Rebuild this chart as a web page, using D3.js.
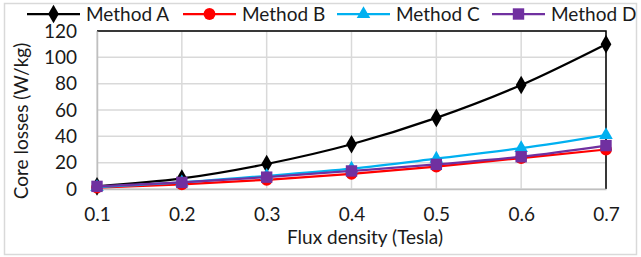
<!DOCTYPE html>
<html>
<head>
<meta charset="utf-8">
<script src="https://cdn.jsdelivr.net/npm/d3@7"></script>
<style>
  body { margin: 0; background: #fff; }
  text { font-family: Lato, "Open Sans", sans-serif; fill: #1a1a1a; }
</style>
</head>
<body>
<div id="chart"></div>
<script>
var fluxDensity = [0.1, 0.2, 0.3, 0.4, 0.5, 0.6, 0.7];
var methodA = [2, 8, 19, 34, 54, 79, 110];
var methodB = [1, 3.5, 7, 11.5, 17, 23.5, 30];
var methodC = [1.5, 5, 10, 15.5, 23, 31, 41];
var methodD = [2, 5, 9, 13.7, 18.7, 24.5, 33];
var yTicks = [0, 20, 40, 60, 80, 100, 120];
var seriesNames = ['Method A', 'Method B', 'Method C', 'Method D'];

var series = [
    { name: seriesNames[0], values: methodA, color: '#000000', symbol: d3.symbolDiamond, size: 100 },
    { name: seriesNames[1], values: methodB, color: '#ff0000', symbol: d3.symbolCircle, size: 110 },
    { name: seriesNames[2], values: methodC, color: '#00b0f0', symbol: d3.symbolTriangle, size: 80 },
    { name: seriesNames[3], values: methodD, color: '#7030a0', symbol: d3.symbolSquare, size: 130 }
];

var W = 641, H = 257;
var margin = { left: 97, right: 35, top: 31, bottom: 68 };
var width = W - margin.left - margin.right;
var height = H - margin.top - margin.bottom;
var fontSize = '19px';

var svg = d3.select('#chart')
    .append('svg')
    .attr('width', W)
    .attr('height', H);

// outer frame
svg.append('rect')
    .attr('x', 4.5).attr('y', 3.5)
    .attr('width', W - 9).attr('height', H - 6)
    .attr('fill', 'none')
    .attr('stroke', '#d9d9d9')
    .attr('stroke-width', 1.5);

var g = svg.append('g')
    .attr('transform', 'translate(' + margin.left + ',' + margin.top + ')');

var x = d3.scaleLinear().domain([0.1, 0.7]).range([0, width]);
var y = d3.scaleLinear().domain([0, 120]).range([height, 0]);

// grid
g.append('g')
    .selectAll('line')
    .data(yTicks)
    .join('line')
    .attr('x1', 0).attr('x2', width)
    .attr('y1', d => y(d)).attr('y2', d => y(d))
    .attr('stroke', '#d9d9d9').attr('stroke-width', 1.5);

g.append('g')
    .selectAll('line')
    .data(fluxDensity)
    .join('line')
    .attr('x1', d => x(d)).attr('x2', d => x(d))
    .attr('y1', 0).attr('y2', height)
    .attr('stroke', '#d9d9d9').attr('stroke-width', 1.5);

// top and right black border
g.append('path')
    .attr('d', 'M0,0H' + width + 'V' + height)
    .attr('fill', 'none')
    .attr('stroke', '#000')
    .attr('stroke-width', 1.5);

// axes
var xAxis = d3.axisBottom(x).tickValues(fluxDensity).tickFormat(d3.format('.1f')).tickSize(0).tickPadding(19);
var yAxis = d3.axisLeft(y).tickValues(yTicks).tickSize(0).tickPadding(20);

g.append('g')
    .attr('class', 'x axis')
    .attr('transform', 'translate(0,' + height + ')')
    .call(xAxis)
    .call(s => s.select('.domain').attr('stroke', '#bfbfbf').attr('stroke-width', 1.5));

g.append('g')
    .attr('class', 'y axis')
    .call(yAxis)
    .call(s => s.select('.domain').attr('stroke', '#bfbfbf').attr('stroke-width', 1.5));

g.selectAll('.axis text')
    .style('font-family', 'Lato, "Open Sans", sans-serif')
    .style('font-size', fontSize)
    .attr('fill', '#1a1a1a');

// axis labels
svg.append('text')
    .attr('text-anchor', 'middle')
    .attr('x', 365)
    .attr('y', 244)
    .style('font-size', fontSize)
    .text('Flux density (Tesla)');

svg.append('text')
    .attr('text-anchor', 'middle')
    .attr('transform', 'rotate(-90)')
    .attr('x', -121)
    .attr('y', 28)
    .style('font-size', fontSize)
    .text('Core losses (W/kg)');

// lines
var line = d3.line()
    .x((d, i) => x(fluxDensity[i]))
    .y(d => y(d))
    .curve(d3.curveMonotoneX);

series.forEach(function (s) {
    var sg = g.append('g');
    sg.append('path')
        .datum(s.values)
        .attr('d', line)
        .attr('fill', 'none')
        .attr('stroke', s.color)
        .attr('stroke-width', 2.25);
    sg.selectAll('path.marker')
        .data(s.values)
        .join('path')
        .attr('class', 'marker')
        .attr('transform', (d, i) => 'translate(' + x(fluxDensity[i]) + ',' + y(d) + ')')
        .attr('d', d3.symbol().type(s.symbol).size(s.size))
        .attr('fill', s.color);
});

// legend
var legendX = [27, 183, 337, 492];
var legend = svg.append('g').attr('transform', 'translate(0,14)');
series.forEach(function (s, i) {
    var lg = legend.append('g').attr('transform', 'translate(' + legendX[i] + ',0)');
    lg.append('line')
        .attr('x1', 0).attr('x2', 53)
        .attr('y1', 0).attr('y2', 0)
        .attr('stroke', s.color)
        .attr('stroke-width', 2.25);
    lg.append('path')
        .attr('transform', 'translate(26.5,0)')
        .attr('d', d3.symbol().type(s.symbol).size(s.size))
        .attr('fill', s.color);
    lg.append('text')
        .attr('x', 59)
        .attr('y', 7)
        .style('font-size', fontSize)
        .text(s.name);
});
</script>
</body>
</html>
